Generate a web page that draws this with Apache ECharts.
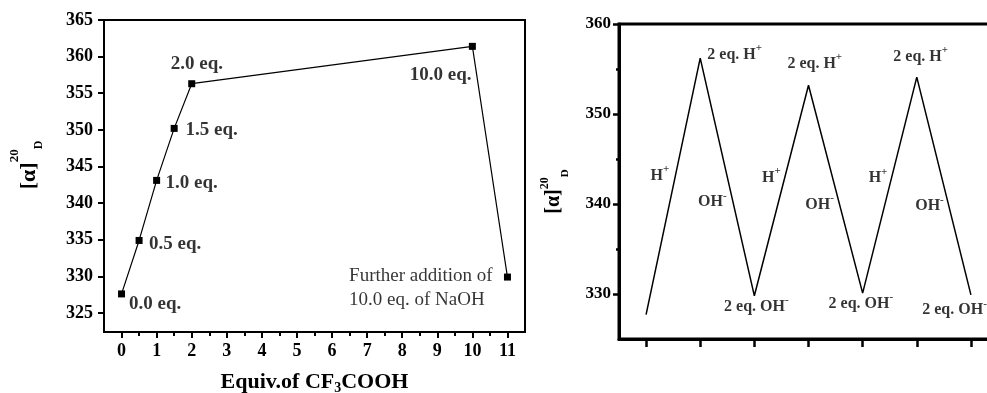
<!DOCTYPE html>
<html><head><meta charset="utf-8">
<script src="https://cdn.jsdelivr.net/npm/echarts@6/dist/echarts.min.js"></script>
<style>html,body{margin:0;padding:0;background:#fff}#c{width:987px;height:393px}</style>
</head><body><div id="c"></div>
<script>
// ---- Left panel data ----
const leftX = [0, 0.5, 1, 1.5, 2, 10, 11];
const leftY = [327.6, 334.9, 343.1, 350.2, 356.3, 361.4, 329.9];
const leftXTicks = [0, 1, 2, 3, 4, 5, 6, 7, 8, 9, 10, 11];
const leftXMinorTicks = [0.5, 1.5, 2.5, 3.5, 4.5, 5.5, 6.5, 7.5, 8.5, 9.5, 10.5];
const leftYTicks = [325, 330, 335, 340, 345, 350, 355, 360, 365];
const leftLabelText = ['0.0 eq.', '0.5 eq.', '1.0 eq.', '1.5 eq.', '2.0 eq.', '10.0 eq.'];
const leftLabelX = [0.23, 0.80, 1.27, 1.84, 1.42, 8.23];
const leftLabelY = [326.2, 334.3, 342.7, 349.9, 358.85, 357.4];
const noteText = ['Further addition of', '10.0 eq. of NaOH'];
const noteX = [6.5, 6.5];
const noteY = [330.0, 326.75];

// ---- Right panel data ----
const rightX = [0, 1, 2, 3, 4, 5, 6];
const rightY = [327.7, 356.2, 329.8, 353.2, 330.1, 354.1, 329.9];
const rightXTicks = [0, 1, 2, 3, 4, 5, 6];
const rightYTicks = [330, 340, 350, 360];
const rightYMinorTicks = [335, 345, 355];
const rightLabelBase = ['2 eq. H', '2 eq. H', '2 eq. H', 'H', 'H', 'H', 'OH', 'OH', 'OH', '2 eq. OH', '2 eq. OH', '2 eq. OH'];
const rightLabelSup  = ['+', '+', '+', '+', '+', '+', '-', '-', '-', '-', '-', '-'];
const rightLabelX = [1.14, 2.62, 4.575, 0.09, 2.15, 4.12, 0.97, 2.95, 4.98, 1.45, 3.38, 5.11];
const rightLabelY = [356.55, 355.56, 356.33, 343.1, 342.9, 342.8, 340.2, 339.9, 339.7, 328.55, 328.9, 328.2];

const FONT = "'Liberation Serif','Times New Roman',serif";
const BLACK = '#000';

function pts(xs, ys) { return xs.map((x, i) => [x, ys[i]]); }
function labelPts(texts, xs, ys, sups) {
  return texts.map((t, i) => ({ value: [xs[i], ys[i]], name: t, sup: sups ? sups[i] : '' }));
}

const chart = echarts.init(document.getElementById('c'), null, { renderer: 'canvas' });

const axisFont = { fontFamily: FONT, fontWeight: 'bold', color: BLACK };

const option = {
  animation: false,
  backgroundColor: '#fff',
  grid: [
    { left: 104, top: 20, width: 421, height: 312, show: true, borderColor: BLACK, borderWidth: 2, backgroundColor: 'transparent', containLabel: false, outerBoundsMode: 'none' },
    { left: 619, top: 24, width: 379, height: 315, show: true, borderColor: BLACK, borderWidth: 3, backgroundColor: 'transparent', containLabel: false, outerBoundsMode: 'none' }
  ],
  xAxis: [
    {
      gridIndex: 0, type: 'value', min: -0.5, max: 11.5, position: 'bottom',
      axisLine: { onZero: false, lineStyle: { color: BLACK, width: 2 } },
      axisTick: { customValues: leftXTicks, length: 6, lineStyle: { color: BLACK, width: 2 } },
      axisLabel: Object.assign({ customValues: leftXTicks, margin: 10, fontSize: 18 }, axisFont),
      splitLine: { show: false },
      name: 'Equiv.of CF{sub|3}COOH', nameLocation: 'middle', nameGap: 37, nameMoveOverlap: false,
      nameTextStyle: Object.assign({ fontSize: 22, rich: { sub: Object.assign({ fontSize: 14, padding: [12, 0, 0, 0] }, axisFont) } }, axisFont)
    },
    {
      gridIndex: 0, type: 'value', min: -0.5, max: 11.5, position: 'bottom',
      axisLine: { show: false, onZero: false },
      axisTick: { customValues: leftXMinorTicks, length: 4, lineStyle: { color: BLACK, width: 2 } },
      axisLabel: { show: false }, splitLine: { show: false }
    },
    {
      gridIndex: 1, type: 'value', min: -0.5, max: 6.5, position: 'bottom',
      axisLine: { onZero: false, lineStyle: { color: BLACK, width: 3 } },
      axisTick: { customValues: rightXTicks, length: 8, lineStyle: { color: BLACK, width: 2.5 } },
      axisLabel: { show: false }, splitLine: { show: false }
    }
  ],
  yAxis: [
    {
      gridIndex: 0, type: 'value', min: 322.4, max: 365, position: 'left',
      axisLine: { onZero: false, lineStyle: { color: BLACK, width: 2 } },
      axisTick: { customValues: leftYTicks, length: 6, lineStyle: { color: BLACK, width: 2 } },
      axisLabel: Object.assign({ customValues: leftYTicks, margin: 11, fontSize: 18 }, axisFont),
      splitLine: { show: false },
      name: '[\u03b1]{sup|20}{sub|D}', nameLocation: 'middle', nameRotate: 90, nameGap: 54, nameMoveOverlap: false,
      nameTextStyle: Object.assign({
        fontSize: 22, padding: [0, 0, 0, 22],
        rich: {
          sup: Object.assign({ fontSize: 13, padding: [0, 0, 29, 0] }, axisFont),
          sub: Object.assign({ fontSize: 12, padding: [19, 0, 0, 0] }, axisFont)
        }
      }, axisFont)
    },
    {
      gridIndex: 1, type: 'value', min: 325, max: 360, position: 'left',
      axisLine: { onZero: false, lineStyle: { color: BLACK, width: 3 } },
      axisTick: { customValues: rightYTicks, length: 6, lineStyle: { color: BLACK, width: 2.5 } },
      axisLabel: Object.assign({ customValues: rightYTicks, margin: 8, fontSize: 17 }, axisFont),
      splitLine: { show: false },
      name: '[\u03b1]{sup|20}{sub|D}', nameLocation: 'middle', nameRotate: 90, nameGap: 48, nameMoveOverlap: false,
      nameTextStyle: Object.assign({
        fontSize: 20, padding: [0, 20, 0, 0],
        rich: {
          sup: Object.assign({ fontSize: 12, padding: [0, 0, 18, 0] }, axisFont),
          sub: Object.assign({ fontSize: 11, padding: [23, 0, 0, 0] }, axisFont)
        }
      }, axisFont)
    },
    {
      gridIndex: 1, type: 'value', min: 325, max: 360, position: 'left',
      axisLine: { show: false, onZero: false },
      axisTick: { customValues: rightYMinorTicks, length: 3, lineStyle: { color: BLACK, width: 2.5 } },
      axisLabel: { show: false }, splitLine: { show: false }
    }
  ],
  series: [
    {
      type: 'line', xAxisIndex: 0, yAxisIndex: 0, data: pts(leftX, leftY),
      symbol: 'rect', symbolSize: 7, itemStyle: { color: BLACK },
      lineStyle: { color: BLACK, width: 1.2 }, silent: true
    },
    {
      type: 'scatter', xAxisIndex: 0, yAxisIndex: 0, data: labelPts(leftLabelText, leftLabelX, leftLabelY),
      symbolSize: 1, itemStyle: { color: 'transparent' }, silent: true,
      label: Object.assign({ show: true, position: [0, 0], align: 'left', verticalAlign: 'middle', formatter: '{b}', fontSize: 19 }, axisFont)
    },
    {
      type: 'scatter', xAxisIndex: 0, yAxisIndex: 0, data: labelPts(noteText, noteX, noteY),
      symbolSize: 1, itemStyle: { color: 'transparent' }, silent: true,
      label: { show: true, position: [0, 0], align: 'left', verticalAlign: 'middle', formatter: '{b}', fontSize: 19, fontFamily: FONT, fontWeight: 'normal', color: BLACK }
    },
    {
      type: 'line', xAxisIndex: 2, yAxisIndex: 1, data: pts(rightX, rightY),
      symbol: 'none', lineStyle: { color: BLACK, width: 1.5 }, silent: true
    },
    {
      type: 'scatter', xAxisIndex: 2, yAxisIndex: 1, data: labelPts(rightLabelBase, rightLabelX, rightLabelY, rightLabelSup),
      symbolSize: 1, itemStyle: { color: 'transparent' }, silent: true,
      label: Object.assign({
        show: true, position: [0, 0], align: 'left', verticalAlign: 'middle', fontSize: 16,
        formatter: p => p.name + '{sup|' + p.data.sup + '}',
        rich: { sup: Object.assign({ fontSize: 11, padding: [0, 0, 12, 0] }, axisFont) }
      }, axisFont)
    }
  ]
};
chart.setOption(option);
</script></body></html>
